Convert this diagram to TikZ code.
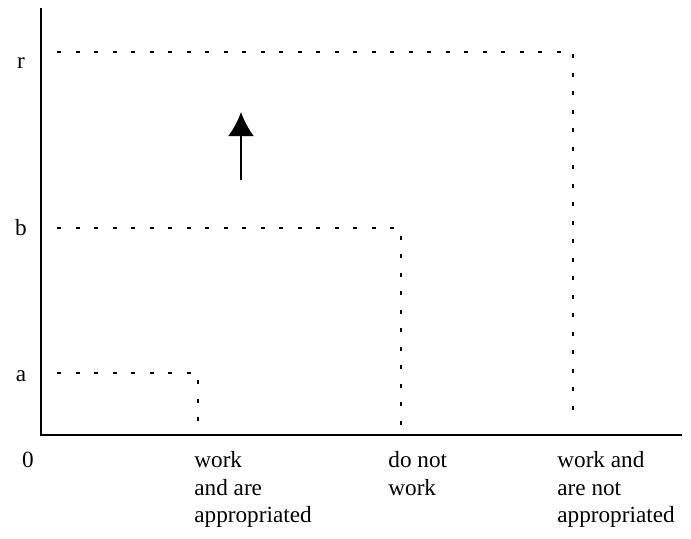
\documentclass[tikz,border=0pt]{standalone}
\usepackage{fontspec}
\setmainfont{Liberation Serif}
\usetikzlibrary{arrows.meta}
\begin{document}
\begin{tikzpicture}[x=0.5pt,y=-0.5pt,>={Latex[length=12pt,width=13pt]},
	level/.style={line width=1.2pt,dash pattern=on 2.2pt off 7.05pt},
	lbl/.style={inner sep=0pt,font=\fontsize{11.6}{13.75}\selectfont},
	cat/.style={lbl,anchor=north west,align=left}]
		\useasboundingbox (0,0) rectangle (691,538);
		% axes
		\coordinate (O) at (41,435);
		\coordinate (ytop) at (41,8);
		\coordinate (xend) at (682,435);
		\draw[line width=1pt] (ytop)--(O)--(xend);
		% levels
		\draw[level] (57,52)--(573,52)--(573,420);
		\draw[level] (57,228)--(401,228)--(401,432);
		\draw[level] (57,373)--(198,373)--(198,432);
		% arrow
		\coordinate (tail) at (241,180);
		\coordinate (tip) at (241,112);
		\draw[->,line width=1.2pt] (tail)--(tip);
		% labels
		\node[lbl] (lblr) at (21,63) {r};
		\node[lbl] (lblb) at (21,228) {b};
		\node[lbl] (lbla) at (21,376) {a};
		\node[lbl,anchor=base] (lblzero) at (28,467) {0};
		\node[cat] (catwork) at (194,451) {work\\and are\\appropriated};
		\node[cat] (catnot) at (388,451) {do not\\work};
		\node[cat] (catfree) at (557,451) {work and\\are not\\appropriated};
\end{tikzpicture}
\end{document}
